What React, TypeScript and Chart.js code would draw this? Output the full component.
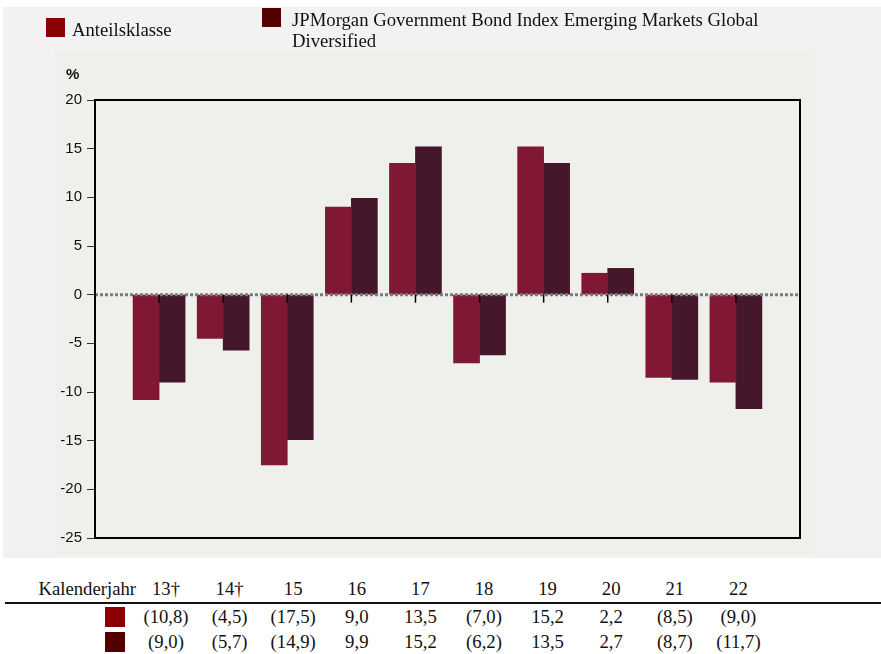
import React, { useEffect, useRef } from "react";
import { Chart, registerables } from "chart.js";

Chart.register(...registerables);

const categories = ["13†", "14†", "15", "16", "17", "18", "19", "20", "21", "22"];
const shareClass = [-10.8, -4.5, -17.5, 9.0, 13.5, -7.0, 15.2, 2.2, -8.5, -9.0];
const benchmark = [-9.0, -5.7, -14.9, 9.9, 15.2, -6.2, 13.5, 2.7, -8.7, -11.7];
const shareClassLabel = "Anteilsklasse";
const benchmarkLabel = ["JPMorgan Government Bond Index Emerging Markets Global", "Diversified"];
const yTicks = [20, 15, 10, 5, 0, -5, -10, -15, -20, -25];

const barRed = "#801834";
const barDark = "#45172b";
const legendRed = "#8b0000";
const legendDark = "#520000";

const fmt = (v: number) => {
  const s = Math.abs(v).toFixed(1).replace(".", ",");
  return v < 0 ? `(${s})` : s;
};

const framePlugin = {
  id: "framePlugin",
  afterDatasetsDraw(chart: any) {
    const { ctx, chartArea, scales } = chart;
    const y0 = scales.y.getPixelForValue(0);
    ctx.save();
    ctx.strokeStyle = "#7a7a7a";
    ctx.lineWidth = 3;
    ctx.setLineDash([3, 2]);
    ctx.beginPath();
    ctx.moveTo(chartArea.left, y0);
    ctx.lineTo(chartArea.right, y0);
    ctx.stroke();
    ctx.setLineDash([]);
    ctx.strokeStyle = "#000";
    ctx.lineWidth = 1.5;
    const n = chart.data.labels.length;
    for (let i = 1; i < n - 1; i++) {
      const x = scales.x.getPixelForValue(i);
      ctx.beginPath();
      ctx.moveTo(x, y0);
      ctx.lineTo(x, y0 + 8);
      ctx.stroke();
    }
    ctx.strokeStyle = "#000";
    ctx.lineWidth = 2;
    ctx.strokeRect(chartArea.left, chartArea.top, chartArea.right - chartArea.left, chartArea.bottom - chartArea.top);
    ctx.restore();
  },
};

export default function App() {
  const canvasRef = useRef<HTMLCanvasElement | null>(null);

  useEffect(() => {
    document.body.style.margin = "0";
    if (!canvasRef.current) return;
    const labels = ["", ...categories, ""];
    const chart = new Chart(canvasRef.current, {
      type: "bar",
      data: {
        labels,
        datasets: [
          {
            label: shareClassLabel,
            data: [null, ...shareClass, null] as any,
            backgroundColor: barRed,
            barThickness: 26,
          },
          {
            label: benchmarkLabel.join(" "),
            data: [null, ...benchmark, null] as any,
            backgroundColor: barDark,
            barThickness: 26,
          },
        ],
      },
      options: {
        animation: false,
        responsive: false,
        maintainAspectRatio: false,
        layout: { padding: { left: 0, right: 81, top: 100, bottom: 22 } },
        plugins: { legend: { display: false }, tooltip: { enabled: false } },
        scales: {
          x: {
            type: "category",
            offset: false,
            display: false,
          },
          y: {
            min: -25,
            max: 20,
            afterFit: (scale: any) => {
              scale.width = 95;
            },
            afterBuildTicks: (scale: any) => {
              scale.ticks = yTicks.map((v) => ({ value: v }));
            },
            border: { display: false },
            grid: {
              drawOnChartArea: false,
              drawTicks: true,
              tickLength: 8,
              color: "#333",
              lineWidth: 1,
            },
            ticks: {
              padding: 5,
              color: "#111",
              font: { family: "'Liberation Sans', Arial, sans-serif", size: 15 },
            },
          },
        },
      },
      plugins: [framePlugin],
    });
    return () => chart.destroy();
  }, []);

  const serif = "'Liberation Serif', 'Times New Roman', serif";
  const fs = 18.7;
  const colCenter = (i: number) => 166 + i * 63.6;

  return (
    <div style={{ position: "relative", width: 881, height: 654, background: "#fff", overflow: "hidden", fontFamily: serif }}>
      <div style={{ position: "absolute", left: 3, top: 7, width: 878, height: 551, background: "#f2f2f2" }} />
      <div style={{ position: "absolute", left: 55, top: 50, width: 760, height: 505, background: "#efefeb" }} />
      <canvas ref={canvasRef} width={881} height={560} style={{ position: "absolute", left: 0, top: 0, width: 881, height: 560 }} />
      <div style={{ position: "absolute", left: 46, top: 18, width: 19, height: 19, background: legendRed }} />
      <div style={{ position: "absolute", left: 72, top: 19, fontSize: fs, lineHeight: "22px", color: "#111", whiteSpace: "nowrap" }}>
        {shareClassLabel}
      </div>
      <div style={{ position: "absolute", left: 262, top: 8, width: 19, height: 19, background: legendDark }} />
      <div style={{ position: "absolute", left: 292, top: 9, fontSize: fs, lineHeight: "21px", color: "#111", whiteSpace: "nowrap" }}>
        {benchmarkLabel[0]}
        <br />
        {benchmarkLabel[1]}
      </div>
      <div style={{ position: "absolute", left: 66, top: 65, fontFamily: "'Liberation Sans', Arial, sans-serif", fontWeight: "bold", fontSize: 15, color: "#111" }}>
        %
      </div>
      <div style={{ position: "absolute", right: 881 - 136, top: 578, fontSize: fs, lineHeight: "22px", color: "#111", whiteSpace: "nowrap" }}>
        Kalenderjahr
      </div>
      {categories.map((c, i) => (
        <div key={"h" + i} style={{ position: "absolute", left: colCenter(i) - 30, width: 60, top: 578, textAlign: "center", fontSize: fs, lineHeight: "22px", color: "#111" }}>
          {c}
        </div>
      ))}
      <div style={{ position: "absolute", left: 5, top: 602, width: 876, height: 2, background: "#111" }} />
      <div style={{ position: "absolute", left: 105, top: 607, width: 20, height: 20, background: legendRed }} />
      <div style={{ position: "absolute", left: 105, top: 632, width: 20, height: 20, background: legendDark }} />
      {shareClass.map((v, i) => (
        <div key={"a" + i} style={{ position: "absolute", left: colCenter(i) - 31, width: 62, top: 606, textAlign: "center", fontSize: fs, lineHeight: "22px", color: "#111" }}>
          {fmt(v)}
        </div>
      ))}
      {benchmark.map((v, i) => (
        <div key={"b" + i} style={{ position: "absolute", left: colCenter(i) - 31, width: 62, top: 631, textAlign: "center", fontSize: fs, lineHeight: "22px", color: "#111" }}>
          {fmt(v)}
        </div>
      ))}
    </div>
  );
}
